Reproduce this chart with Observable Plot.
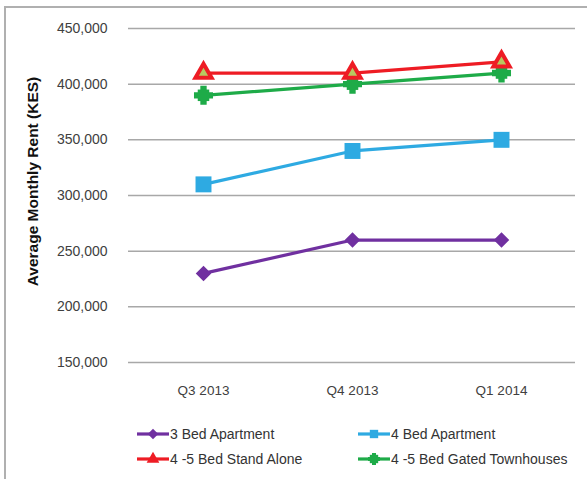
<!DOCTYPE html>
<html>
<head>
<meta charset="utf-8">
<script src="https://cdn.jsdelivr.net/npm/d3@7"></script>
<script src="https://cdn.jsdelivr.net/npm/@observablehq/plot@0.6"></script>
<style>
  html, body { margin: 0; padding: 0; background: #fff; }
  #wrap { position: relative; width: 587px; height: 479px; overflow: hidden; font-family: "Liberation Sans", Arial, sans-serif; }
  #frame { position: absolute; left: 4px; top: 6px; width: 600px; height: 500px; border-left: 2px solid #b0b0b0; border-top: 2px solid #b0b0b0; }
  #chart { position: absolute; left: 0; top: 0; }
  .leg { position: absolute; display: flex; align-items: center; font-size: 14px; color: #333; white-space: nowrap; }
  .leg svg { margin-right: 1px; }
</style>
</head>
<body>
<div id="wrap">
  <div id="frame"></div>
  <div id="chart"></div>
  <div id="legend"></div>
</div>
<script>
const quarters = ["Q3 2013", "Q4 2013", "Q1 2014"];
const seriesNames = ["3 Bed Apartment", "4 Bed Apartment", "4 -5 Bed Stand Alone", "4 -5 Bed Gated Townhouses"];
const bed3Apartment = [230000, 260000, 260000];
const bed4Apartment = [310000, 340000, 350000];
const standAlone = [410000, 410000, 420000];
const gatedTownhouses = [390000, 400000, 410000];
const yTicks = [150000, 200000, 250000, 300000, 350000, 400000, 450000];
const yTitle = "Average Monthly Rent (KES)";

const seriesValues = [bed3Apartment, bed4Apartment, standAlone, gatedTownhouses];
const colors = ["#7030a0", "#2eaae2", "#ee1c24", "#1eab48"];
const symbols = ["diamond2", "square", "triangle", "square"];
const sizes = [7, 9, 6, 6.5];

const rows = [];
seriesNames.forEach((s, i) => quarters.forEach((q, j) => rows.push({series: s, quarter: q, value: seriesValues[i][j]})));

const marks = [
  Plot.gridY(yTicks, {stroke: "#a8a8a8", strokeOpacity: 1, strokeWidth: 1.5}),
  Plot.axisY(yTicks, {tickSize: 0, tickPadding: 21, tickFormat: d3.format(","), fontSize: 14, fill: "#404040", label: null}),
  Plot.axisX(quarters, {tickSize: 0, tickPadding: 23, fontSize: 13.5, fill: "#404040", label: null}),
  Plot.text([yTitle], {frameAnchor: "left", text: d => d, dx: -95, dy: -14, rotate: -90, textAnchor: "middle",
    fontWeight: "bold", fontSize: 15.5, fill: "#111"})
];
const order = [0, 1, 3, 2];
order.forEach(i => {
  const s = seriesNames[i];
  const d = rows.filter(r => r.series === s);
  marks.push(Plot.line(d, {x: "quarter", y: "value", stroke: colors[i], strokeWidth: 3.2}));
  if (i === 3) {
    marks.push(Plot.dot(d, {x: "quarter", y: "value", symbol: () => "cross", r: 8, fill: colors[i]}));
  }
  marks.push(Plot.dot(d, {x: "quarter", y: "value", symbol: () => symbols[i], r: sizes[i],
    fill: i === 2 ? "#b9c860" : colors[i], stroke: colors[i], strokeWidth: i === 2 ? 4 : 0}));
});

const chart = Plot.plot({
  width: 587,
  height: 410,
  marginLeft: 128,
  marginRight: 12,
  marginTop: 28,
  marginBottom: 48,
  style: {fontFamily: "'Liberation Sans', Arial, sans-serif", background: "transparent"},
  x: {type: "point", domain: quarters, padding: 0.5},
  y: {domain: [150000, 450000]},
  symbol: {type: "identity"},
  marks
});
document.getElementById("chart").appendChild(chart);

// legend
const legendPos = [[137, 434], [358, 434], [137, 459], [358, 459]];
const leg = document.getElementById("legend");
const symMap = {diamond2: d3.symbolDiamond2, square: d3.symbolSquare, triangle: d3.symbolTriangle};
seriesNames.forEach((s, i) => {
  const div = document.createElement("div");
  div.className = "leg";
  div.style.left = legendPos[i][0] + "px";
  div.style.top = (legendPos[i][1] - 8) + "px";
  const sw = d3.create("svg").attr("width", 32).attr("height", 16);
  sw.append("line").attr("x1", 0).attr("x2", 32).attr("y1", 8).attr("y2", 8).attr("stroke", colors[i]).attr("stroke-width", 3.2);
  if (i === 3) {
    sw.append("path").attr("transform", "translate(16,8)").attr("d", d3.symbol(d3.symbolCross, 80)()).attr("fill", colors[i]);
  }
  sw.append("path").attr("transform", "translate(16,8)")
    .attr("d", d3.symbol(symMap[symbols[i]], 70)()).attr("fill", colors[i]);
  div.appendChild(sw.node());
  const t = document.createElement("span");
  t.textContent = s;
  div.appendChild(t);
  leg.appendChild(div);
});
</script>
</body>
</html>
